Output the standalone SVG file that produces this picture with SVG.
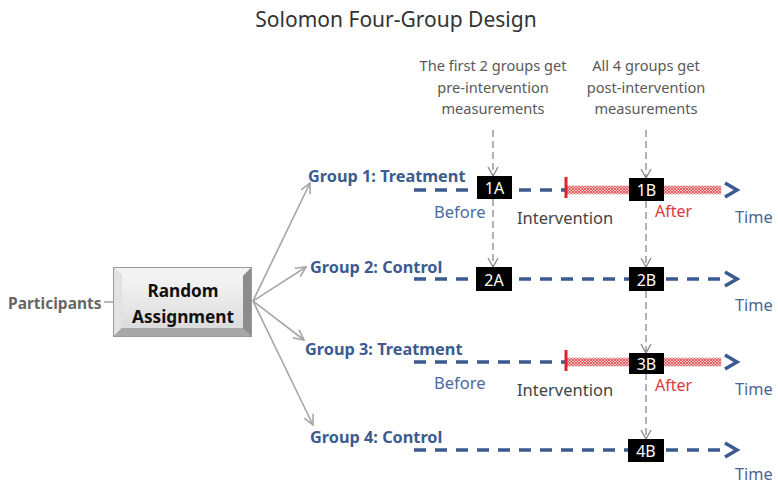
<svg xmlns="http://www.w3.org/2000/svg" width="778" height="486" viewBox="0 0 778 486">
  <style>
    text { font-family: "Noto Sans", "Open Sans", sans-serif; }
    .title { font-size: 21px; fill: #333333; }
    .note { font-size: 14.6px; fill: #595959; text-anchor: middle; }
    .group { font-size: 16.3px; font-weight: bold; fill: #3b5b8f; }
    .before { font-size: 16.5px; fill: #4a6aa0; }
    .time { font-size: 16.3px; fill: #4a6690; }
    .interv { font-size: 16.5px; fill: #444444; }
    .after { font-size: 16px; fill: #e0393e; }
    .tag { font-size: 16px; fill: #ffffff; text-anchor: middle; }
    .tagbox { fill: #000000; }
    .timeline { stroke: #3a5a90; stroke-width: 3.5; stroke-dasharray: 12 9; fill: none; }
    .chev { stroke: #3a5a90; stroke-width: 3.5; fill: none; stroke-linejoin: miter; }
    .measure { stroke: #808080; stroke-width: 1.2; stroke-dasharray: 7 4; fill: none; marker-end: url(#vhead); }
    .fan { stroke: #a6a6a6; stroke-width: 1.6; fill: none; marker-end: url(#fhead); }
    .band { fill: url(#hatch); stroke: #e8a0a0; stroke-width: 0.6; }
    .tick { stroke: #e0202a; stroke-width: 3; }
  </style>
  <defs>
    <marker id="vhead" markerWidth="12" markerHeight="12" refX="10" refY="6" orient="auto" markerUnits="userSpaceOnUse" viewBox="0 0 12 12">
      <path d="M1,1 L10,6 L1,11" fill="none" stroke="#808080" stroke-width="1.2" stroke-dasharray="none"/>
    </marker>
    <marker id="fhead" markerWidth="14" markerHeight="14" refX="12" refY="7" orient="auto" markerUnits="userSpaceOnUse" viewBox="0 0 14 14">
      <path d="M2,2 L12,7 L2,12" fill="none" stroke="#a6a6a6" stroke-width="1.6"/>
    </marker>
    <pattern id="hatch" width="3" height="3" patternUnits="userSpaceOnUse">
      <rect width="3" height="3" fill="#f6c4c4"/>
      <path d="M0,0 L3,3 M3,0 L0,3" stroke="#d9424a" stroke-width="0.8"/>
    </pattern>
    <linearGradient id="face" x1="0" y1="0" x2="0" y2="1">
      <stop offset="0" stop-color="#f4f4f4"/>
      <stop offset="1" stop-color="#dcdcdc"/>
    </linearGradient>
  </defs>

  <text class="title" x="396" y="27" text-anchor="middle">Solomon Four-Group Design</text>

  <!-- measurement notes -->
  <g id="note-pre">
    <text class="note" x="493" y="71">The first 2 groups get</text>
    <text class="note" x="493" y="93">pre-intervention</text>
    <text class="note" x="493" y="114">measurements</text>
  </g>
  <g id="note-post">
    <text class="note" x="646" y="71">All 4 groups get</text>
    <text class="note" x="646" y="93">post-intervention</text>
    <text class="note" x="646" y="114">measurements</text>
  </g>

  <!-- participants and random assignment -->
  <g id="participants">
    <text x="8" y="309" style="font-size:15.5px;font-weight:bold;fill:#666666">Participants</text>
  </g>
  <g id="random-assignment">
    <rect x="113" y="267" width="139" height="70" fill="#9a9a9a"/>
    <polygon points="114,268 251,268 243,276 122,276" fill="#f2f2f2"/>
    <polygon points="114,268 122,276 122,328 114,336" fill="#e2e2e2"/>
    <polygon points="251,268 251,336 243,328 243,276" fill="#8c8c8c"/>
    <polygon points="114,336 122,328 243,328 251,336" fill="#a8a8a8"/>
    <rect x="122" y="276" width="121" height="52" fill="url(#face)"/>
    <text x="183" y="297" text-anchor="middle" style="font-size:17.2px;font-weight:bold;fill:#111111">Random</text>
    <text x="183" y="323" text-anchor="middle" style="font-size:17.2px;font-weight:bold;fill:#111111">Assignment</text>
  </g>

  <!-- group labels -->
  <g id="group-1"><text class="group" x="308" y="182">Group 1: Treatment</text></g>
  <g id="group-2"><text class="group" x="310" y="273">Group 2: Control</text></g>
  <g id="group-3"><text class="group" x="305" y="355">Group 3: Treatment</text></g>
  <g id="group-4"><text class="group" x="310" y="443">Group 4: Control</text></g>

  <!-- connectors -->
  <g id="connectors">
    <line x1="104" y1="302" x2="113" y2="302" stroke="#a6a6a6" stroke-width="1.6"/>
    <line class="fan" x1="253" y1="301" x2="310" y2="183"/>
    <line class="fan" x1="253" y1="301" x2="306" y2="267"/>
    <line class="fan" x1="253" y1="301" x2="304" y2="340"/>
    <line class="fan" x1="253" y1="301" x2="313" y2="425"/>

    <!-- timelines -->
    <line class="timeline" x1="414" y1="190" x2="565" y2="190"/>
    <rect class="band" x="567" y="186" width="154" height="8"/>
    <line class="tick" x1="566" y1="177" x2="566" y2="198"/>
    <polyline class="chev" points="725,183 737,190 725,197"/>

    <line class="timeline" x1="414" y1="279" x2="722" y2="279"/>
    <polyline class="chev" points="725,272 737,279 725,286"/>

    <line class="timeline" x1="414" y1="362" x2="565" y2="362"/>
    <rect class="band" x="567" y="358" width="154" height="8"/>
    <line class="tick" x1="566" y1="350" x2="566" y2="371"/>
    <polyline class="chev" points="725,355 737,362 725,369"/>

    <line class="timeline" x1="414" y1="450" x2="722" y2="450"/>
    <polyline class="chev" points="725,443 737,450 725,457"/>

    <!-- measurement flow -->
    <line class="measure" x1="493" y1="130" x2="493" y2="176"/>
    <line class="measure" x1="493" y1="199" x2="493" y2="267"/>
    <line class="measure" x1="646" y1="130" x2="646" y2="178"/>
    <line class="measure" x1="646" y1="201" x2="646" y2="267"/>
    <line class="measure" x1="646" y1="291" x2="646" y2="353"/>
    <line class="measure" x1="646" y1="373" x2="646" y2="439"/>
  </g>

  <!-- measurement points -->
  <g id="m-1A"><rect class="tagbox" x="477" y="176" width="35" height="23"/><text class="tag" x="494.5" y="194">1A</text></g>
  <g id="m-1B"><rect class="tagbox" x="629" y="178" width="35" height="23"/><text class="tag" x="646.5" y="196">1B</text></g>
  <g id="m-2A"><rect class="tagbox" x="476" y="267" width="36" height="24"/><text class="tag" x="494" y="285.5">2A</text></g>
  <g id="m-2B"><rect class="tagbox" x="629" y="267" width="35" height="24"/><text class="tag" x="646.5" y="285.5">2B</text></g>
  <g id="m-3B"><rect class="tagbox" x="629" y="353" width="35" height="21"/><text class="tag" x="646.5" y="369.5">3B</text></g>
  <g id="m-4B"><rect class="tagbox" x="628" y="439" width="36" height="23"/><text class="tag" x="646" y="456.5">4B</text></g>

  <!-- phase labels -->
  <g id="phase-labels">
    <text class="before" x="434" y="218">Before</text>
    <text class="interv" x="517" y="224">Intervention</text>
    <text class="after" x="655" y="217">After</text>
    <text class="time" x="735" y="223">Time</text>

    <text class="time" x="735" y="311">Time</text>

    <text class="before" x="434" y="389">Before</text>
    <text class="interv" x="517" y="396">Intervention</text>
    <text class="after" x="655" y="391">After</text>
    <text class="time" x="735" y="395">Time</text>

    <text class="time" x="735" y="480">Time</text>
  </g>
</svg>
